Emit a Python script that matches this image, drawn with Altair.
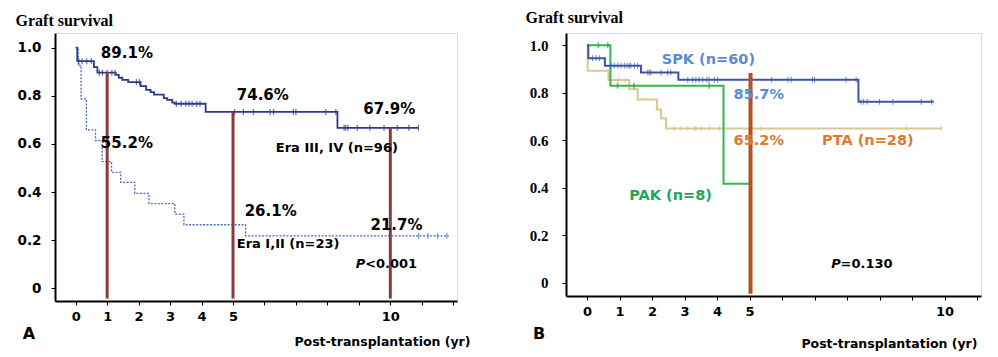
import altair as alt
import pandas as pd

# ---------------- Panel A data ----------------
era34_t = [0, 0.05, 0.58, 0.69, 1.27, 1.37, 1.48, 1.67, 2.06, 2.24, 2.38, 2.49, 2.8, 2.91, 3.07, 3.15, 4.13, 8.32, 10.9]
era34_s = [1.0, 0.944, 0.919, 0.896, 0.887, 0.875, 0.866, 0.857, 0.84, 0.825, 0.815, 0.805, 0.79, 0.783, 0.772, 0.767, 0.733, 0.667, 0.667]
era34_cens = [0.1, 0.2, 0.35, 0.5, 0.75, 0.85, 1.0, 1.15, 1.25, 1.93, 2.03,
              3.2, 3.35, 3.5, 3.6, 3.7, 3.85, 3.95, 5.05, 5.33, 5.65, 6.18, 6.29,
              6.92, 7.0, 7.95, 8.27, 8.53, 8.58, 8.65, 8.95, 9.35, 9.8, 10.22, 10.59, 10.89]

era12_t = [0, 0.08, 0.17, 0.34, 0.63, 0.84, 1.14, 1.43, 1.88, 2.33, 3.15, 3.44, 5.4, 11.86]
era12_s = [1.0, 0.926, 0.787, 0.658, 0.614, 0.526, 0.482, 0.44, 0.394, 0.352, 0.308, 0.264, 0.218, 0.218]
era12_cens = [10.9, 11.2, 11.5, 11.8]

a_mark_t = [1, 5, 10]
a_mark_top = [0.896, 0.733, 0.667]
a_mark_bottom = [-0.043, -0.043, -0.043]

a_pct_labels = ["89.1%", "55.2%", "74.6%", "67.9%", "26.1%", "21.7%"]
a_pct_t = [0.8, 0.8, 5.12, 9.14, 5.37, 9.37]
a_pct_s = [0.976, 0.6025, 0.804, 0.746, 0.322, 0.264]

a_grp_labels = ["Era III, IV (n=96)", "Era I,II (n=23)"]
a_grp_t = [6.36, 5.12]
a_grp_s = [0.582, 0.186]

a_p_t = [8.9, 9.2]
a_p_s = [0.1, 0.1]
a_p_text = ["P", "<0.001"]

# ---------------- Panel B data ----------------
spk_t = [0, 0.04, 0.55, 1.66, 2.81, 8.35, 10.67]
spk_s = [1.0, 0.946, 0.914, 0.886, 0.855, 0.762, 0.762]
spk_cens = [0.17, 0.28, 0.38, 0.74, 0.84, 0.95, 1.05, 1.15, 1.23, 1.3, 1.35, 1.46, 1.56,
            1.87, 1.92, 1.97, 2.28, 2.48, 2.58, 3.1, 3.25, 3.35, 3.45, 3.56, 3.69, 3.76,
            3.92, 4.02, 5.68, 6.18, 6.28, 6.94, 7.0, 7.97, 8.28, 8.43, 8.51, 8.62, 9.0,
            9.41, 10.28, 10.6]

pak_t = [0, 0.72, 4.2, 5.05]
pak_s = [1.0, 0.83, 0.417, 0.417]
pak_cens = [0.35, 0.64, 0.94, 1.44, 3.76]

pta_t = [0, 0.02, 0.66, 1.3, 1.56, 2.15, 2.28, 2.43, 10.9]
pta_s = [1.0, 0.893, 0.854, 0.815, 0.772, 0.730, 0.692, 0.650, 0.650]
pta_cens = [0.97, 1.18, 2.69, 2.89, 3.1, 3.3, 3.35, 3.5, 3.76, 4.07, 5.35, 9.82, 10.9]

b_mark_t = [5.03]
b_mark_top = [0.883]
b_mark_bottom = [-0.046]

b_labels = ["SPK (n=60)", "85.7%", "65.2%", "PTA (n=28)", "PAK (n=8)"]
b_label_t = [2.3, 4.51, 4.51, 7.23, 1.3]
b_label_s = [0.939, 0.791, 0.597, 0.597, 0.365]
b_label_col = ["#5b8bd6", "#5b8bd6", "#e0782e", "#e0782e", "#1fa65a"]

b_p_t = [7.51, 7.8]
b_p_s = [0.08, 0.08]
b_p_text = ["P", "=0.130"]

y_ticks = [0, 0.2, 0.4, 0.6, 0.8, 1.0]
x_ticks = list(range(0, 13))

SANS = "DejaVu Sans"
SERIF = "Liberation Serif"


def curve_df(t, s):
    return pd.DataFrame({"t": t, "s": s})


def censor_df(times, ct, cs):
    vals = []
    for c in times:
        v = cs[0]
        for tt, ss in zip(ct, cs):
            if tt <= c:
                v = ss
        vals.append(v)
    return pd.DataFrame({"t": times, "s": vals})


def make_axes(xlabel_expr, ylab_font, ylab_size, ylab_pad, xtitle_x, xtitle_y, ytitle_x, ytitle_y, xlab_pad):
    ax_x = alt.Axis(values=x_ticks, labelExpr=xlabel_expr, grid=False,
                    domainColor="black", domainWidth=2, tickColor="black", tickSize=4,
                    labelFont=SANS, labelFontWeight="bold", labelFontSize=13, labelColor="black",
                    labelPadding=xlab_pad, title="Post-transplantation (yr)", titleFont=SANS,
                    titleFontWeight="bold", titleFontSize=12.5, titleColor="black",
                    titleAlign="right", titleBaseline="middle", titleX=xtitle_x, titleY=xtitle_y)
    ax_y = alt.Axis(values=y_ticks,
                    labelExpr="datum.value == 0 ? '0' : format(datum.value, '.1f')",
                    grid=False, domainColor="black", domainWidth=2, tickColor="black", tickSize=4,
                    labelFont=ylab_font, labelFontWeight="bold", labelFontSize=ylab_size,
                    labelColor="black", labelPadding=ylab_pad, title="Graft survival",
                    titleFont=SERIF, titleFontWeight="bold", titleFontSize=16, titleColor="black",
                    titleAngle=0, titleAlign="left", titleBaseline="middle",
                    titleX=ytitle_x, titleY=ytitle_y)
    return ax_x, ax_y


def text_df(labels, t, s, extra=None):
    d = {"t": t, "s": s, "label": labels}
    if extra:
        d.update(extra)
    return pd.DataFrame(d)


# ---------------- Panel A ----------------
xA = alt.Scale(domain=[-0.658, 12.12], nice=False, zero=False)
yA = alt.Scale(domain=[-0.053, 1.061], nice=False, zero=False)
axAx, axAy = make_axes("(datum.value <= 5 || datum.value == 10) ? datum.label : ''",
                       SANS, 13.5, 10, 415, 40, -40, -13, 5)
XA = alt.X("t:Q", scale=xA, axis=axAx)
YA = alt.Y("s:Q", scale=yA, axis=axAy)

a_layers = [
    alt.Chart(curve_df(era12_t, era12_s)).mark_line(interpolate="step-after", color="#4a68c0",
                                                     strokeWidth=1.3, strokeDash=[2, 1.5]).encode(x=XA, y=YA),
    alt.Chart(censor_df(era12_cens, era12_t, era12_s)).mark_tick(orient="vertical", size=6, thickness=1.2,
                                                                 color="#4a68c0").encode(x=XA, y=YA),
    alt.Chart(curve_df(era34_t, era34_s)).mark_line(interpolate="step-after", color="#2e3a8c",
                                                     strokeWidth=1.8).encode(x=XA, y=YA),
    alt.Chart(censor_df(era34_cens, era34_t, era34_s)).mark_tick(orient="vertical", size=6, thickness=1.3,
                                                                 color="#2e3a8c").encode(x=XA, y=YA),
    alt.Chart(pd.DataFrame({"t": a_mark_t, "s": a_mark_bottom, "s2": a_mark_top})).mark_rule(
        color="#8b3a3a", strokeWidth=3).encode(x=XA, y=YA, y2="s2:Q"),
    alt.Chart(text_df(a_pct_labels, a_pct_t, a_pct_s)).mark_text(
        align="left", baseline="middle", font=SANS, fontWeight="bold", fontSize=15, color="black"
    ).encode(x=XA, y=YA, text="label:N"),
    alt.Chart(text_df(a_grp_labels, a_grp_t, a_grp_s)).mark_text(
        align="left", baseline="middle", font=SANS, fontWeight="bold", fontSize=13, color="black"
    ).encode(x=XA, y=YA, text="label:N"),
    alt.Chart(text_df(a_p_text[:1], a_p_t[:1], a_p_s[:1])).mark_text(
        align="left", baseline="middle", font=SANS, fontWeight="bold", fontStyle="italic", fontSize=13, color="black"
    ).encode(x=XA, y=YA, text="label:N"),
    alt.Chart(text_df(a_p_text[1:], a_p_t[1:], a_p_s[1:])).mark_text(
        align="left", baseline="middle", font=SANS, fontWeight="bold", fontSize=13, color="black"
    ).encode(x=XA, y=YA, text="label:N"),
    alt.Chart(pd.DataFrame({"label": ["A"]})).mark_text(
        align="center", baseline="middle", font=SANS, fontWeight="bold", fontSize=16, color="black"
    ).encode(x=alt.value(-26), y=alt.value(301), text="label:N"),
]
panelA = alt.layer(*a_layers).properties(width=402, height=268)

# ---------------- Panel B ----------------
xB = alt.Scale(domain=[-0.646, 12.12], nice=False, zero=False)
yB = alt.Scale(domain=[-0.056, 1.052], nice=False, zero=False)
axBx, axBy = make_axes("datum.value <= 5 ? datum.label : (datum.value == 11 ? '10' : '')",
                       SERIF, 15, 14, 411, 47, -41, -16, 5)
XB = alt.X("t:Q", scale=xB, axis=axBx)
YB = alt.Y("s:Q", scale=yB, axis=axBy)

b_layers = [
    alt.Chart(curve_df(pta_t, pta_s)).mark_line(interpolate="step-after", color="#d9c894",
                                                 strokeWidth=2).encode(x=XB, y=YB),
    alt.Chart(censor_df(pta_cens, pta_t, pta_s)).mark_tick(orient="vertical", size=5, thickness=1,
                                                           color="#cdb985").encode(x=XB, y=YB),
    alt.Chart(curve_df(pak_t, pak_s)).mark_line(interpolate="step-after", color="#35b552",
                                                 strokeWidth=2).encode(x=XB, y=YB),
    alt.Chart(censor_df(pak_cens, pak_t, pak_s)).mark_tick(orient="vertical", size=6, thickness=1.5,
                                                           color="#1f9a45").encode(x=XB, y=YB),
    alt.Chart(curve_df(spk_t, spk_s)).mark_line(interpolate="step-after", color="#3a55a8",
                                                 strokeWidth=2).encode(x=XB, y=YB),
    alt.Chart(censor_df(spk_cens, spk_t, spk_s)).mark_tick(orient="vertical", size=6, thickness=1,
                                                           color="#3a55a8").encode(x=XB, y=YB),
    alt.Chart(pd.DataFrame({"t": b_mark_t, "s": b_mark_bottom, "s2": b_mark_top})).mark_rule(
        color="#b4521e", strokeWidth=4).encode(x=XB, y=YB, y2="s2:Q"),
    alt.Chart(text_df(b_labels, b_label_t, b_label_s, {"col": b_label_col})).mark_text(
        align="left", baseline="middle", font=SANS, fontWeight="bold", fontSize=14.5
    ).encode(x=XB, y=YB, text="label:N", color=alt.Color("col:N", scale=None)),
    alt.Chart(text_df(b_p_text[:1], b_p_t[:1], b_p_s[:1])).mark_text(
        align="left", baseline="middle", font=SANS, fontWeight="bold", fontStyle="italic", fontSize=13, color="black"
    ).encode(x=XB, y=YB, text="label:N"),
    alt.Chart(text_df(b_p_text[1:], b_p_t[1:], b_p_s[1:])).mark_text(
        align="left", baseline="middle", font=SANS, fontWeight="bold", fontSize=13, color="black"
    ).encode(x=XB, y=YB, text="label:N"),
    alt.Chart(pd.DataFrame({"label": ["B"]})).mark_text(
        align="center", baseline="middle", font=SANS, fontWeight="bold", fontSize=16, color="black"
    ).encode(x=alt.value(-27), y=alt.value(301), text="label:N"),
]
panelB = alt.layer(*b_layers).properties(width=415, height=263)

chart = alt.hconcat(panelA, panelB, spacing=109, bounds="flush").properties(
    padding={"left": 6, "top": 0, "right": 5, "bottom": 5}
).configure_view(stroke="#555555", strokeWidth=1).configure(background="white")

chart.save("out.html", embed_options={"renderer": "svg", "actions": False})
